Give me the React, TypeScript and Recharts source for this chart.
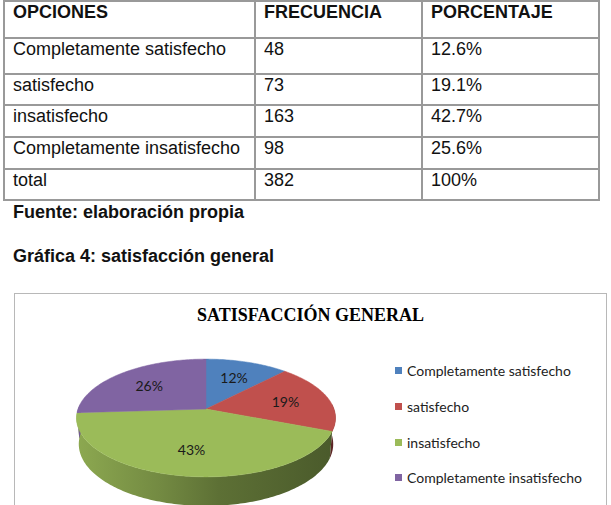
import { PieChart, Pie, Cell, Legend } from "recharts";

// survey answers
const categories = [
  "Completamente satisfecho",
  "satisfecho",
  "insatisfecho",
  "Completamente insatisfecho",
];
const frequencies = [48, 73, 163, 98];
const percentages = ["12.6%", "19.1%", "42.7%", "25.6%"];
const headers = ["OPCIONES", "FRECUENCIA", "PORCENTAJE"];
const totalRow = ["total", "382", "100%"];

// rounded shares shown on the pie
const sliceShares = [12, 19, 43, 26];

const SLICE_COLORS = ["#4F81BD", "#C0504D", "#9BBB59", "#8064A2"];

// 3d view of the pie (in units of the radius)
const TILT = (26.7 * Math.PI) / 180;
const DIST = 5.85;
const DEPTH = 0.23;
const LABEL_R = 0.65;

const PIE_CX = 191;
const PIE_CY = 115;
const PIE_R = 128;

const pieData = categories.map((name, i) => ({ name, value: sliceShares[i] }));

type Pt = [number, number];

// angle in degrees clockwise from 12 o'clock, r in radii, h = depth below the top face
const project = (cx: number, cy: number, R: number, deg: number, r: number, h: number): Pt => {
  const t = (deg * Math.PI) / 180;
  const u = r * Math.sin(t);
  const v = -r * Math.cos(t);
  const yc = v * Math.sin(TILT) + h * Math.cos(TILT);
  const zc = v * Math.cos(TILT) - h * Math.sin(TILT);
  const s = DIST / (DIST - zc);
  return [cx + R * u * s, cy + R * yc * s];
};

const rim = (cx: number, cy: number, R: number, a0: number, a1: number, h: number): Pt[] => {
  const steps = Math.max(2, Math.ceil(Math.abs(a1 - a0)));
  const pts: Pt[] = [];
  for (let i = 0; i <= steps; i++) {
    pts.push(project(cx, cy, R, a0 + ((a1 - a0) * i) / steps, 1, h));
  }
  return pts;
};

const toPath = (pts: Pt[]) =>
  pts.map((p, i) => `${i ? "L" : "M"}${p[0].toFixed(2)},${p[1].toFixed(2)}`).join("") + "Z";

const shade = (hex: string, f: number) => {
  const n = parseInt(hex.slice(1), 16);
  const c = [(n >> 16) & 255, (n >> 8) & 255, n & 255].map((x) => Math.round(x * f));
  return `rgb(${c[0]},${c[1]},${c[2]})`;
};

// recharts angles run counter-clockwise from 3 o'clock
const toClock = (a: number) => 90 - a;

const renderWall = (props: any) => {
  const { cx, cy, outerRadius, startAngle, endAngle, index } = props;
  const lo = Math.max(toClock(startAngle), 85);
  const hi = Math.min(toClock(endAngle), 275);
  if (hi <= lo) return <g />;
  const top = rim(cx, cy, outerRadius, lo, hi, 0);
  const bottom = rim(cx, cy, outerRadius, lo, hi, DEPTH).reverse();
  const color = SLICE_COLORS[index];
  const id = `wall-${index}`;
  return (
    <g>
      <defs>
        <linearGradient
          id={id}
          gradientUnits="userSpaceOnUse"
          x1={cx - outerRadius}
          y1={0}
          x2={cx + outerRadius}
          y2={0}
        >
          <stop offset="0" stopColor={shade(color, 0.9)} />
          <stop offset="0.32" stopColor={shade(color, 0.74)} />
          <stop offset="0.55" stopColor={shade(color, 0.6)} />
          <stop offset="1" stopColor={shade(color, 0.48)} />
        </linearGradient>
      </defs>
      <path d={toPath([...top, ...bottom])} fill={`url(#${id})`} />
    </g>
  );
};

const renderTop = (props: any) => {
  const { cx, cy, outerRadius, startAngle, endAngle, index } = props;
  const pts = [
    project(cx, cy, outerRadius, 0, 0, 0),
    ...rim(cx, cy, outerRadius, toClock(startAngle), toClock(endAngle), 0),
  ];
  const color = SLICE_COLORS[index];
  return <path d={toPath(pts)} fill={color} stroke={color} strokeWidth={0.5} />;
};

const renderValue = (props: any) => {
  const { cx, cy, outerRadius, startAngle, endAngle, value } = props;
  const mid = (toClock(startAngle) + toClock(endAngle)) / 2;
  const [x, y] = project(cx, cy, outerRadius, mid, LABEL_R, 0);
  return (
    <text
      x={x}
      y={y}
      textAnchor="middle"
      dominantBaseline="central"
      fontFamily="Lato, sans-serif"
      fontSize={14}
      fill="#1a1a1a"
    >
      {`${value}%`}
    </text>
  );
};

const renderLegend = (props: any) => {
  const seen = new Set<string>();
  const items = (props.payload || []).filter((p: any) => {
    if (p.type === "none" || seen.has(p.value)) return false;
    seen.add(p.value);
    return true;
  });
  const names: string[] = items.length ? items.map((p: any) => p.value) : [...categories];
  names.sort((a, b) => categories.indexOf(a) - categories.indexOf(b));
  return (
    <div style={{ fontFamily: "Lato, sans-serif", fontSize: 14, color: "#222" }}>
      {names.map((name) => (
        <div key={name} style={{ height: 35.7, display: "flex", alignItems: "center" }}>
          <span
            style={{
              width: 7,
              height: 7,
              marginRight: 5,
              background: SLICE_COLORS[categories.indexOf(name)],
            }}
          />
          <span>{name}</span>
        </div>
      ))}
    </div>
  );
};

const colWidths = [251, 167, 177];
const rowHeights = [37, 36, 31, 32, 32, 31];
const LINE = "2px solid #999";

const DataTable = () => {
  const rows = [
    headers,
    ...categories.map((c, i) => [c, String(frequencies[i]), percentages[i]]),
    totalRow,
  ];
  return (
    <div
      style={{
        position: "absolute",
        left: 3,
        top: 0,
        display: "grid",
        gridTemplateColumns: colWidths.map((w) => `${w}px`).join(" "),
        gridTemplateRows: rowHeights.map((h, i) => `${i === 0 ? h + 2 : h}px`).join(" "),
        borderLeft: LINE,
        fontFamily: "'Liberation Sans', Arial, sans-serif",
        fontSize: 18,
        lineHeight: "20px",
        color: "#111",
      }}
    >
      {rows.map((row, r) =>
        row.map((cell, c) => (
          <div
            key={`${r}-${c}`}
            style={{
              boxSizing: "border-box",
              borderRight: LINE,
              borderBottom: LINE,
              borderTop: r === 0 ? LINE : undefined,
              padding: "0 0 0 8px",
              fontWeight: r === 0 ? "bold" : "normal",
              whiteSpace: "nowrap",
            }}
          >
            {cell}
          </div>
        ))
      )}
    </div>
  );
};

const captionStyle: React.CSSProperties = {
  position: "absolute",
  left: 13,
  fontFamily: "'Liberation Sans', Arial, sans-serif",
  fontSize: 18,
  lineHeight: "20px",
  fontWeight: "bold",
  color: "#111",
  whiteSpace: "nowrap",
};

export default function App() {
  return (
    <div
      style={{
        position: "relative",
        width: 611,
        height: 505,
        overflow: "hidden",
        background: "#fff",
      }}
    >
      <style>{"body{margin:0}"}</style>
      <DataTable />
      <div style={{ ...captionStyle, top: 202 }}>Fuente: elaboración propia</div>
      <div style={{ ...captionStyle, top: 246 }}>Gráfica 4: satisfacción general</div>

      <div
        style={{
          position: "absolute",
          left: 14,
          top: 293,
          width: 593,
          height: 240,
          boxSizing: "border-box",
          border: "1px solid #b8b8b8",
          background: "#fff",
        }}
      >
        <div
          style={{
            position: "absolute",
            left: 0,
            right: 0,
            top: 12,
            textAlign: "center",
            fontFamily: "'Liberation Serif', 'Times New Roman', serif",
            fontWeight: "bold",
            fontSize: 18,
            lineHeight: "18px",
            color: "#000",
          }}
        >
          SATISFACCIÓN GENERAL
        </div>
        <PieChart width={591} height={230} margin={{ top: 0, right: 0, bottom: 0, left: 0 }}>
          <Pie
            data={pieData}
            dataKey="value"
            nameKey="name"
            cx={PIE_CX}
            cy={PIE_CY}
            outerRadius={PIE_R}
            startAngle={90}
            endAngle={-270}
            fill="none"
            stroke="none"
            legendType="none"
            label={renderWall}
            labelLine={false}
            isAnimationActive={false}
          />
          <Pie
            data={pieData}
            dataKey="value"
            nameKey="name"
            cx={PIE_CX}
            cy={PIE_CY}
            outerRadius={PIE_R}
            startAngle={90}
            endAngle={-270}
            stroke="none"
            legendType="square"
            label={renderTop}
            labelLine={false}
            isAnimationActive={false}
          >
            {pieData.map((d, i) => (
              <Cell key={d.name} fill={SLICE_COLORS[i]} fillOpacity={0} />
            ))}
          </Pie>
          <Pie
            data={pieData}
            dataKey="value"
            nameKey="name"
            cx={PIE_CX}
            cy={PIE_CY}
            outerRadius={PIE_R}
            startAngle={90}
            endAngle={-270}
            fill="none"
            stroke="none"
            legendType="none"
            label={renderValue}
            labelLine={false}
            isAnimationActive={false}
          />
          <Legend
            layout="vertical"
            align="right"
            verticalAlign="middle"
            content={renderLegend}
            wrapperStyle={{ left: 380, top: 59, right: "auto", bottom: "auto", width: 215 }}
          />
        </PieChart>
      </div>
    </div>
  );
}
